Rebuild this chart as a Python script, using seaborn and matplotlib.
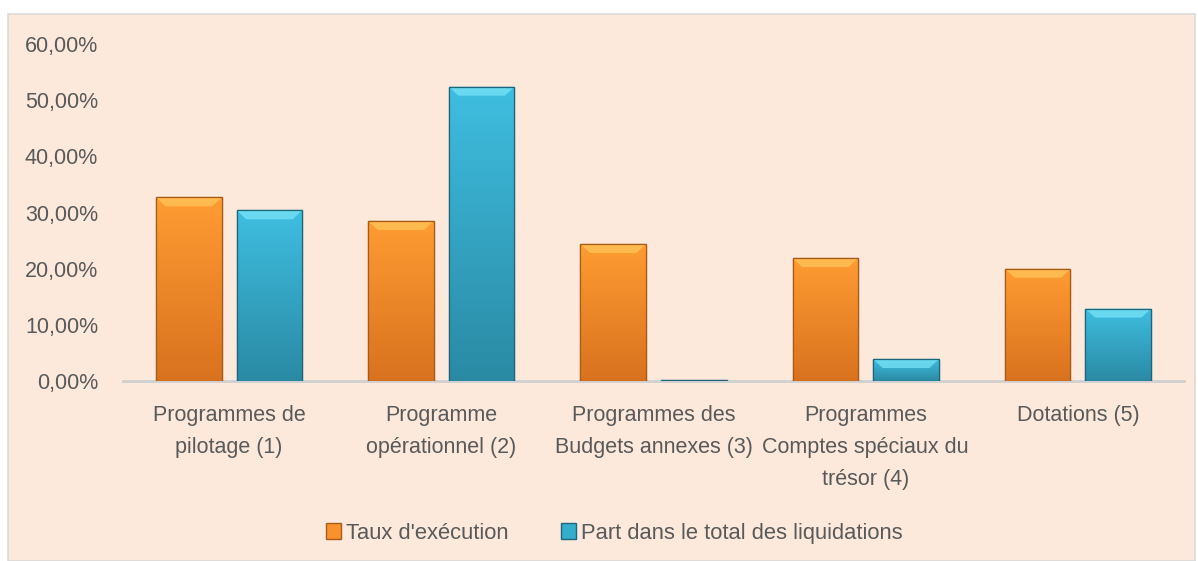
import numpy as np
import pandas as pd
import matplotlib
matplotlib.use("Agg")
import matplotlib.pyplot as plt
import seaborn as sns
from matplotlib.patches import Rectangle, Polygon
from matplotlib.colors import LinearSegmentedColormap
from matplotlib.ticker import FuncFormatter

# Données
categories = [
    "Programmes de\npilotage (1)",
    "Programme\nopérationnel (2)",
    "Programmes des\nBudgets annexes (3)",
    "Programmes\nComptes spéciaux du\ntrésor (4)",
    "Dotations (5)",
]
taux_execution = [32.7, 28.5, 24.4, 21.9, 20.0]
part_liquidations = [30.4, 52.4, 0.1, 3.9, 12.9]
series = ["Taux d'exécution", "Part dans le total des liquidations"]
colors = ["#F7922E", "#35AECB"]
edges = ["#A85A18", "#1D6679"]
tops = ["#FF9C32", "#3FBEE0"]
bottoms = ["#D8721F", "#2A8AA4"]
bevels = ["#FFC65A", "#78E4F8"]

df = pd.DataFrame({
    "cat": categories * 2,
    "serie": [series[0]] * 5 + [series[1]] * 5,
    "val": taux_execution + part_liquidations,
})

sns.set_style("white")
plt.rcParams['font.family'] = ['Liberation Sans Narrow', 'Liberation Sans', 'DejaVu Sans']

bg = "#FCE9DC"
fig = plt.figure(figsize=(11.98, 5.61), dpi=100)
fig.patch.set_facecolor("white")
fig.patches.append(Rectangle((8 / 1198, 0), 1187 / 1198, 1 - 14 / 561,
                             transform=fig.transFigure, facecolor=bg,
                             edgecolor="#D9D9D9", linewidth=1.2, zorder=-10))

ax = fig.add_axes([123 / 1198, 1 - 381 / 561, 1061 / 1198, 337 / 561])
ax.patch.set_alpha(0)

sns.barplot(data=df, x="cat", y="val", hue="serie", palette=colors, saturation=1,
            width=0.76, gap=0.185, ax=ax, legend=True, zorder=3)

ax.set_ylim(0, 60)
ax.set_xlim(-0.5, 4.5)

# dégradé + biseau pour imiter le style 3D
grad = np.linspace(0, 1, 256).reshape(-1, 1)
for i, cont in enumerate(ax.containers):
    cmap = LinearSegmentedColormap.from_list("g%d" % i, [tops[i], bottoms[i]])
    for b in cont:
        b.set_edgecolor(edges[i])
        b.set_linewidth(0.9)
        x, w, h = b.get_x(), b.get_width(), b.get_height()
        im = ax.imshow(grad, extent=[x, x + w, 0, h], aspect="auto", cmap=cmap,
                       origin="upper", zorder=3.2)
        im.set_clip_path(b)
        bh = min(1.6, h / 2)
        d = min(0.045, w / 3)
        ax.add_patch(Polygon([(x, h), (x + w, h), (x + w - d, h - bh), (x + d, h - bh)],
                             closed=True, facecolor=bevels[i], edgecolor="none",
                             alpha=0.75, zorder=3.4))
        ax.add_patch(Rectangle((x, 0), w, h, facecolor="none", edgecolor=edges[i],
                               linewidth=0.9, zorder=3.5))

ax.set_ylim(0, 60)
ax.set_xlim(-0.5, 4.5)
ax.set_yticks(np.arange(0, 61, 10))
ax.yaxis.set_major_formatter(FuncFormatter(lambda v, p: f"{v:.2f}%".replace(".", ",")))
ax.tick_params(axis="both", length=0, labelsize=15.5, colors="#595959")
ax.tick_params(axis="x", pad=17)
ax.tick_params(axis="y", pad=18)
for t in ax.get_xticklabels():
    t.set_linespacing(1.7)
for s in ["top", "right", "left"]:
    ax.spines[s].set_visible(False)
ax.spines["bottom"].set_color("#D0D0D0")
ax.spines["bottom"].set_linewidth(2)
ax.spines["bottom"].set_zorder(2)
ax.set_xlabel("")
ax.set_ylabel("")

leg = ax.legend(loc="upper center", bbox_to_anchor=(0.463, -0.362), ncol=2,
                frameon=False, fontsize=15.8, handlelength=0.7, handleheight=0.7,
                handletextpad=0.2, columnspacing=2.4, labelcolor="#595959")
for h, e in zip(leg.legend_handles, edges):
    h.set_edgecolor(e)

fig.savefig("out.png", dpi=100, facecolor=fig.get_facecolor())
